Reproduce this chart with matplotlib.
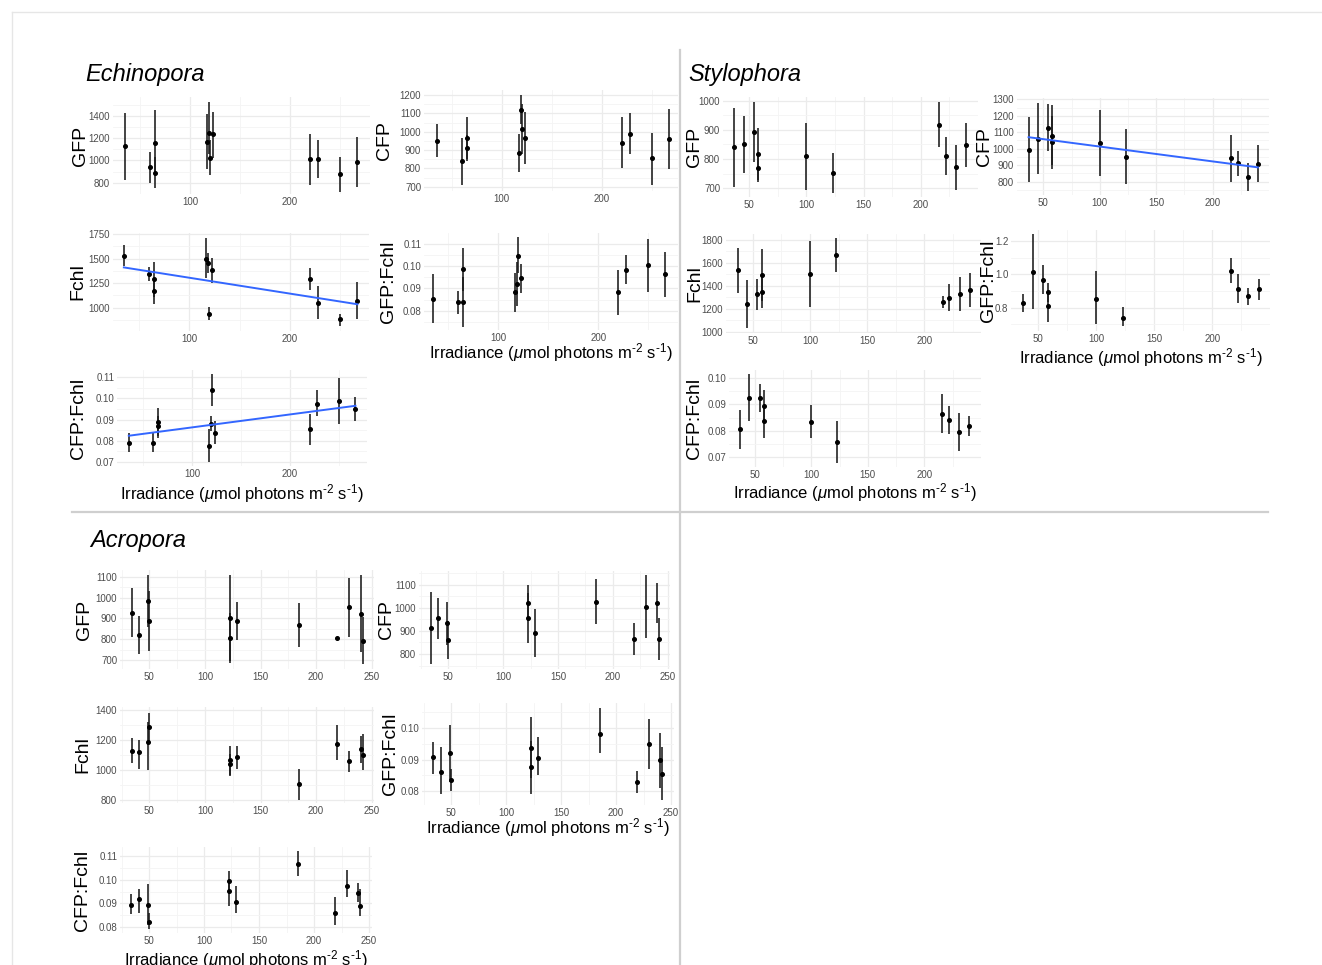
import matplotlib
matplotlib.use('Agg')
import matplotlib.pyplot as plt
from matplotlib.lines import Line2D
from matplotlib.ticker import FixedLocator, MultipleLocator

plt.rcParams['font.family'] = ['Liberation Sans', 'DejaVu Sans']
plt.rcParams['mathtext.fontset'] = 'custom'
plt.rcParams['mathtext.rm'] = 'Liberation Sans'
plt.rcParams['mathtext.it'] = 'Liberation Sans:italic'

# ---------------- data ----------------
XLABEL = r'Irradiance ($\mu$mol photons m$^{\text{-2}}$ s$^{\text{-1}}$)'

# Echinopora
echi_x = [35, 60, 65, 65, 117, 119, 120, 123, 220, 228, 250, 267]
echi_gfp = [1130, 940, 1155, 890, 1170, 1245, 1025, 1235, 1010, 1010, 875, 985]
echi_gfp_lo = [820, 800, 900, 750, 920, 1060, 870, 1020, 780, 840, 720, 760]
echi_gfp_hi = [1430, 1080, 1450, 1030, 1420, 1530, 1180, 1440, 1240, 1180, 1030, 1210]
echi_cfp = [950, 840, 965, 910, 885, 1120, 1015, 965, 940, 990, 855, 960]
echi_cfp_lo = [860, 710, 850, 840, 780, 1040, 880, 825, 800, 880, 710, 795]
echi_cfp_hi = [1040, 965, 1080, 980, 990, 1200, 1150, 1105, 1080, 1100, 995, 1125]
echi_fchl = [1525, 1340, 1290, 1170, 1500, 1455, 940, 1380, 1295, 1050, 880, 1065]
echi_fchl_lo = [1420, 1270, 1110, 1035, 1300, 1350, 870, 1250, 1180, 880, 810, 880]
echi_fchl_hi = [1640, 1410, 1470, 1300, 1710, 1560, 1010, 1510, 1400, 1220, 940, 1260]
echi_gf = [0.0853, 0.0837, 0.0988, 0.0840, 0.0883, 0.0920, 0.1048, 0.0945, 0.0882, 0.0985, 0.1004, 0.0965]
echi_gf_lo = [0.0743, 0.0785, 0.0890, 0.0728, 0.0795, 0.0820, 0.0970, 0.0880, 0.0780, 0.0920, 0.0885, 0.0862]
echi_gf_hi = [0.0965, 0.0890, 0.1080, 0.0950, 0.0970, 0.1020, 0.1130, 0.1010, 0.0985, 0.1050, 0.1122, 0.1066]
echi_cf = [0.0790, 0.0790, 0.0887, 0.0868, 0.0773, 0.0880, 0.1042, 0.0838, 0.0855, 0.0975, 0.0990, 0.0950]
echi_cf_lo = [0.0745, 0.0748, 0.0810, 0.0820, 0.0700, 0.0845, 0.0965, 0.0785, 0.0780, 0.0915, 0.0880, 0.0895]
echi_cf_hi = [0.0835, 0.0835, 0.0955, 0.0915, 0.0855, 0.0915, 0.1115, 0.0895, 0.0925, 0.1040, 0.1095, 0.1005]
echi_fchl_fit_x = [35, 267]
echi_fchl_fit_y = [1410, 1035]
echi_cf_fit_x = [35, 267]
echi_cf_fit_y = [0.0823, 0.0965]

# Stylophora
styl_x = [37, 45, 54, 58, 58, 100, 123, 216, 222, 231, 240]
styl_gfp = [840, 850, 893, 817, 770, 810, 753, 917, 810, 772, 849]
styl_gfp_lo = [705, 753, 790, 730, 720, 695, 685, 840, 745, 695, 773]
styl_gfp_hi = [975, 947, 995, 907, 820, 925, 820, 995, 877, 849, 924]
styl_cfp = [995, 1060, 1128, 1078, 1043, 1035, 952, 943, 912, 830, 910]
styl_cfp_lo = [800, 845, 985, 900, 875, 835, 785, 800, 835, 745, 800]
styl_cfp_hi = [1190, 1280, 1270, 1265, 1200, 1235, 1120, 1085, 988, 915, 1025]
styl_fchl = [1535, 1245, 1325, 1495, 1345, 1500, 1665, 1258, 1298, 1330, 1365]
styl_fchl_lo = [1340, 1030, 1185, 1270, 1205, 1215, 1520, 1205, 1180, 1180, 1215]
styl_fchl_hi = [1730, 1455, 1460, 1720, 1490, 1795, 1815, 1315, 1420, 1475, 1515]
styl_gf = [0.83, 1.015, 0.965, 0.893, 0.81, 0.85, 0.74, 1.02, 0.915, 0.868, 0.91]
styl_gf_lo = [0.775, 0.79, 0.88, 0.835, 0.715, 0.70, 0.69, 0.95, 0.83, 0.815, 0.845]
styl_gf_hi = [0.885, 1.24, 1.055, 0.95, 0.90, 1.02, 0.805, 1.10, 1.005, 0.92, 0.975]
styl_cf = [0.0805, 0.0925, 0.0923, 0.0893, 0.0837, 0.0833, 0.0757, 0.0864, 0.0840, 0.0793, 0.0818]
styl_cf_lo = [0.0730, 0.0835, 0.0870, 0.0830, 0.0770, 0.0770, 0.0675, 0.0790, 0.0788, 0.0720, 0.0779]
styl_cf_hi = [0.0878, 0.1015, 0.0977, 0.0955, 0.0890, 0.0896, 0.0838, 0.0940, 0.0893, 0.0866, 0.0856]
styl_cfp_fit_x = [37, 240]
styl_cfp_fit_y = [1070, 887]

# Acropora
acro_x = [34, 41, 49, 50, 123, 123, 129, 185, 219, 230, 240, 242]
acro_gfp = [928, 820, 985, 887, 902, 805, 886, 868, 805, 953, 923, 793]
acro_gfp_lo = [810, 728, 860, 745, 697, 685, 795, 762, 800, 812, 738, 680]
acro_gfp_hi = [1045, 910, 1110, 1030, 1107, 925, 977, 975, 810, 1095, 1110, 905]
acro_cfp = [913, 957, 933, 863, 1020, 957, 892, 1027, 865, 1005, 1020, 865]
acro_cfp_lo = [755, 867, 840, 778, 945, 848, 785, 930, 795, 870, 935, 775]
acro_cfp_hi = [1070, 1045, 1028, 945, 1100, 1065, 997, 1125, 935, 1145, 1110, 955]
acro_fchl = [1130, 1120, 1185, 1290, 1065, 1040, 1090, 910, 1175, 1060, 1140, 1100]
acro_fchl_lo = [1050, 1010, 1000, 1180, 970, 960, 1010, 800, 1070, 990, 1050, 1000]
acro_fchl_hi = [1215, 1200, 1320, 1380, 1160, 1110, 1160, 1010, 1300, 1130, 1230, 1240]
acro_gf = [0.0907, 0.0860, 0.0920, 0.0835, 0.0935, 0.0875, 0.0905, 0.0980, 0.0828, 0.0950, 0.0900, 0.0855]
acro_gf_lo = [0.0855, 0.0790, 0.0830, 0.0800, 0.0840, 0.0790, 0.0850, 0.0920, 0.0795, 0.0870, 0.0810, 0.0770]
acro_gf_hi = [0.0955, 0.0940, 0.1010, 0.0870, 0.1035, 0.0960, 0.0970, 0.1065, 0.0865, 0.1030, 0.0985, 0.0940]
acro_cf = [0.0895, 0.0918, 0.0895, 0.0822, 0.0995, 0.0953, 0.0905, 0.1065, 0.0860, 0.0975, 0.0945, 0.0888]
acro_cf_lo = [0.0855, 0.0860, 0.0810, 0.0790, 0.0955, 0.0890, 0.0860, 0.1015, 0.0810, 0.0925, 0.0905, 0.0845]
acro_cf_hi = [0.0938, 0.0960, 0.0980, 0.0860, 0.1035, 0.1000, 0.0975, 0.1120, 0.0925, 0.1040, 0.0985, 0.0960]

# tick values / labels
echi_xticks = [100, 200]
styl_xticks = [50, 100, 150, 200]
acro_xticks = [50, 100, 150, 200, 250]

echi_gfp_ticks = [800, 1000, 1200, 1400]
echi_cfp_ticks = [700, 800, 900, 1000, 1100, 1200]
echi_fchl_ticks = [1000, 1250, 1500, 1750]
echi_gf_ticks = [0.08, 0.09, 0.10, 0.11]
echi_cf_ticks = [0.07, 0.08, 0.09, 0.10, 0.11]
styl_gfp_ticks = [700, 800, 900, 1000]
styl_cfp_ticks = [800, 900, 1000, 1100, 1200, 1300]
styl_fchl_ticks = [1000, 1200, 1400, 1600, 1800]
styl_gf_ticks = [0.8, 1.0, 1.2]
styl_cf_ticks = [0.07, 0.08, 0.09, 0.10]
acro_gfp_ticks = [700, 800, 900, 1000, 1100]
acro_cfp_ticks = [800, 900, 1000, 1100]
acro_fchl_ticks = [800, 1000, 1200, 1400]
acro_gf_ticks = [0.08, 0.09, 0.10]
acro_cf_ticks = [0.08, 0.09, 0.10, 0.11]

# ---------------- figure ----------------
W, H = 1322, 965
fig = plt.figure(figsize=(W / 100, H / 100), dpi=100)
fig.patch.set_facecolor('white')

GRID_MAJ = '#ebebeb'
GRID_MIN = '#f4f4f4'
TICK_COL = '#4d4d4d'


def px_line(x0, y0, x1, y1, color, lw):
    fig.add_artist(Line2D([x0 / W, x1 / W], [1 - y0 / H, 1 - y1 / H],
                          transform=fig.transFigure, color=color, lw=lw))


def panel(box, xref, yref, x, m, lo, hi, xticks, yticks, yfmt, ylabel,
          ylx, xly=None, fit=None):
    l, t, r, b = box
    ax = fig.add_axes([l / W, 1 - b / H, (r - l) / W, (b - t) / H])
    (xv1, xp1), (xv2, xp2) = xref
    sx = (xv2 - xv1) / (xp2 - xp1)
    ax.set_xlim(xv1 + (l - xp1) * sx, xv1 + (r - xp1) * sx)
    (yv1, yp1), (yv2, yp2) = yref
    sy = (yv2 - yv1) / (yp2 - yp1)
    ax.set_ylim(yv1 + (b - yp1) * sy, yv1 + (t - yp1) * sy)

    for s in ax.spines.values():
        s.set_visible(False)
    ax.set_facecolor('none')
    ax.xaxis.set_major_locator(FixedLocator(xticks))
    ax.set_xticklabels([str(v) for v in xticks])
    xstep = xticks[1] - xticks[0]
    ax.xaxis.set_minor_locator(MultipleLocator(xstep / 2))
    ax.yaxis.set_major_locator(FixedLocator(yticks))
    ax.set_yticklabels([yfmt.format(v) for v in yticks])
    ystep = yticks[1] - yticks[0]
    ax.yaxis.set_minor_locator(MultipleLocator(ystep / 2))
    ax.tick_params(which='both', length=0)
    ax.tick_params(axis='both', labelsize=7, labelcolor=TICK_COL, pad=2)
    ax.grid(which='major', color=GRID_MAJ, lw=0.9)
    ax.grid(which='minor', color=GRID_MIN, lw=0.6)
    ax.set_axisbelow(True)

    ax.vlines(x, lo, hi, color='#1a1a1a', lw=1.15, zorder=3)
    ax.plot(x, m, 'o', ms=2.6, color='black', zorder=4)
    if fit is not None:
        ax.plot(fit[0], fit[1], color='#3366FF', lw=1.4, zorder=5)

    ax.set_ylabel(ylabel, fontsize=14, va='center', color='black')
    ax.yaxis.set_label_coords((ylx - l) / (r - l), 0.5)
    if xly is not None:
        ax.set_xlabel(XLABEL, fontsize=12, va='center', color='black')
        ax.xaxis.set_label_coords(0.5, (b - xly) / (b - t))
    return ax


# ---- Echinopora ----
fig.text(85 / W, 1 - 74 / H, 'Echinopora', fontsize=17, style='italic',
         ha='left', va='center')
panel((113, 97, 370, 194), ((100, 190), (200, 290)), ((1400, 116), (800, 182.7)),
      echi_x, echi_gfp, echi_gfp_lo, echi_gfp_hi, echi_xticks, echi_gfp_ticks,
      '{:d}', 'GFP', 80)
panel((424, 90, 678, 191), ((100, 501.7), (200, 601.7)), ((1200, 95), (700, 186.7)),
      echi_x, echi_cfp, echi_cfp_lo, echi_cfp_hi, echi_xticks, echi_cfp_ticks,
      '{:d}', 'CFP', 384)
panel((113, 233, 369, 331), ((100, 189.3), (200, 290)), ((1750, 234), (1000, 307.7)),
      echi_x, echi_fchl, echi_fchl_lo, echi_fchl_hi, echi_xticks, echi_fchl_ticks,
      '{:d}', 'Fchl', 78, fit=(echi_fchl_fit_x, echi_fchl_fit_y))
panel((424, 233, 678, 330), ((100, 498.3), (200, 598.3)), ((0.11, 244), (0.08, 310.7)),
      echi_x, echi_gf, echi_gf_lo, echi_gf_hi, echi_xticks, echi_gf_ticks,
      '{:.2f}', 'GFP:Fchl', 388, xly=353)
panel((117, 370, 367, 466), ((100, 192.3), (200, 290)), ((0.11, 377.3), (0.07, 461.7)),
      echi_x, echi_cf, echi_cf_lo, echi_cf_hi, echi_xticks, echi_cf_ticks,
      '{:.2f}', 'CFP:Fchl', 78, xly=494, fit=(echi_cf_fit_x, echi_cf_fit_y))

# ---- Stylophora ----
fig.text(688 / W, 1 - 74 / H, 'Stylophora', fontsize=17, style='italic',
         ha='left', va='center')
panel((723, 97, 978, 197), ((50, 749.3), (200, 920.7)), ((1000, 100.7), (700, 188.3)),
      styl_x, styl_gfp, styl_gfp_lo, styl_gfp_hi, styl_xticks, styl_gfp_ticks,
      '{:d}', 'GFP', 695)
panel((1017, 98, 1269, 195), ((50, 1043.3), (200, 1212.7)), ((1300, 99.3), (800, 181.7)),
      styl_x, styl_cfp, styl_cfp_lo, styl_cfp_hi, styl_xticks, styl_cfp_ticks,
      '{:d}', 'CFP', 985, fit=(styl_cfp_fit_x, styl_cfp_fit_y))
panel((726, 234, 981, 333), ((50, 752.7), (200, 924.3)), ((1800, 240), (1000, 331.7)),
      styl_x, styl_fchl, styl_fchl_lo, styl_fchl_hi, styl_xticks, styl_fchl_ticks,
      '{:d}', 'Fchl', 695)
panel((1011, 230, 1270, 331), ((50, 1038.3), (200, 1212.3)), ((1.2, 241), (0.8, 307.7)),
      styl_x, styl_gf, styl_gf_lo, styl_gf_hi, styl_xticks, styl_gf_ticks,
      '{:.1f}', 'GFP:Fchl', 988, xly=358)
panel((729, 370, 981, 467), ((50, 755), (200, 924.3)), ((0.10, 378.3), (0.07, 456.7)),
      styl_x, styl_cf, styl_cf_lo, styl_cf_hi, styl_xticks, styl_cf_ticks,
      '{:.2f}', 'CFP:Fchl', 695, xly=493)

# ---- Acropora ----
fig.text(90 / W, 1 - 541 / H, 'Acropora', fontsize=17, style='italic',
         ha='left', va='center')
panel((120, 570, 374, 669), ((50, 149.3), (250, 371.7)), ((1100, 576.7), (700, 660)),
      acro_x, acro_gfp, acro_gfp_lo, acro_gfp_hi, acro_xticks, acro_gfp_ticks,
      '{:d}', 'GFP', 85)
panel((419, 571, 670, 669), ((50, 448.3), (250, 667.7)), ((1100, 585), (800, 654)),
      acro_x, acro_cfp, acro_cfp_lo, acro_cfp_hi, acro_xticks, acro_cfp_ticks,
      '{:d}', 'CFP', 387)
panel((120, 707, 374, 803), ((50, 149.3), (250, 371.7)), ((1400, 710), (800, 800)),
      acro_x, acro_fchl, acro_fchl_lo, acro_fchl_hi, acro_xticks, acro_fchl_ticks,
      '{:d}', 'Fchl', 83)
panel((422, 703, 674, 805), ((50, 451), (250, 671)), ((0.10, 728), (0.08, 791)),
      acro_x, acro_gf, acro_gf_lo, acro_gf_hi, acro_xticks, acro_gf_ticks,
      '{:.2f}', 'GFP:Fchl', 390, xly=828)
panel((120, 847, 372, 933), ((50, 149), (250, 369)), ((0.11, 856), (0.08, 927)),
      acro_x, acro_cf, acro_cf_lo, acro_cf_hi, acro_xticks, acro_cf_ticks,
      '{:.2f}', 'CFP:Fchl', 83, xly=960)

# separators and frame
px_line(680, 50, 680, 965, '#cfcfcf', 1.6)
px_line(72, 512, 1268, 512, '#cfcfcf', 1.6)
px_line(12, 12, 1322, 12, '#e6e6e6', 1.0)
px_line(12, 12, 12, 965, '#e6e6e6', 1.0)

fig.savefig('out.png', dpi=100, facecolor='white')
